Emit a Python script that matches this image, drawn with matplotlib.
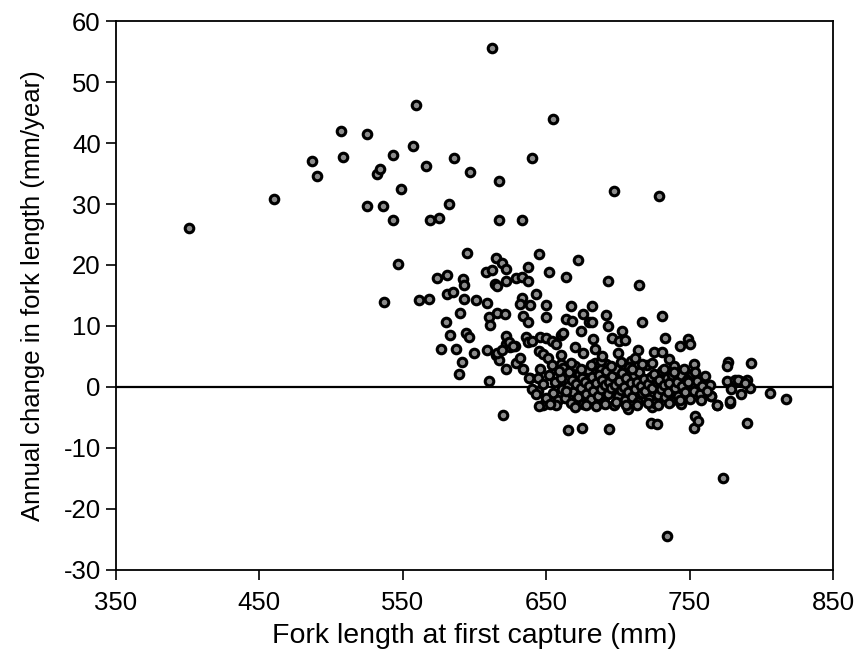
import matplotlib.pyplot as plt

plt.rcParams["font.family"] = "Liberation Sans"
plt.rcParams["axes.unicode_minus"] = False

# Fork length at first capture (mm) and annual change (mm/year)
# scattered fish above the main cloud
upper_x = [401, 460, 487, 490, 507, 508, 525, 525, 532, 534, 536, 543, 543, 537, 547,
           549, 557, 559, 566, 569, 575, 582, 586, 597, 595, 574, 581, 592, 593, 561,
           568, 581, 585, 593, 601, 590, 580, 612, 655, 640, 617, 697, 729, 617, 633,
           615, 619, 622, 645, 672, 637, 608, 612, 614, 616, 622, 629, 633, 637, 652,
           664, 693, 715, 609, 633, 632, 639, 643, 650, 667, 682, 610, 611, 616, 621,
           634, 637, 650, 664, 668, 676, 680, 682, 692, 693, 717, 731, 703]
upper_y = [26.0, 30.8, 37.0, 34.6, 41.9, 37.7, 41.5, 29.6, 34.9, 35.7, 29.6, 38.0, 27.3, 14.0, 20.2,
           32.5, 39.5, 46.2, 36.3, 27.3, 27.7, 30.0, 37.6, 35.2, 21.9, 17.9, 18.4, 17.7, 16.8, 14.2,
           14.5, 15.3, 15.6, 14.5, 14.3, 12.2, 10.7, 55.5, 43.9, 37.6, 33.8, 32.2, 31.3, 27.3, 27.4,
           21.2, 20.3, 19.3, 21.8, 20.8, 19.6, 18.9, 19.1, 16.9, 16.6, 17.3, 17.9, 18.0, 17.3, 18.9,
           18.1, 17.3, 16.8, 13.7, 14.6, 13.6, 13.4, 15.3, 13.4, 13.2, 13.2, 11.5, 10.2, 12.2, 11.9,
           11.6, 10.7, 11.5, 11.1, 10.9, 12.0, 10.7, 10.7, 11.8, 10.0, 10.7, 11.6, 9.2]

# fish around the edges of the cloud, plus the low outliers
edge_x = [577, 587, 583, 594, 596, 600, 591, 589, 609, 610, 615, 617, 622, 622, 625,
          628, 622, 620, 629, 632, 636, 637, 640, 645, 648, 646, 650, 654, 657, 660,
          662, 670, 674, 683, 696, 701, 733, 749, 750, 743, 714, 725, 731, 736, 777,
          776, 793, 806, 817, 790, 754, 753, 723, 727, 694, 675, 665, 648, 707, 724,
          744, 769, 778, 786, 765, 776, 782, 785, 790, 792, 761, 764, 753, 752, 739,
          773, 734, 616, 619, 624, 627, 634, 639, 644, 651, 660, 684, 705, 709, 692,
          688, 681, 674, 756, 784, 789, 779, 778, 769, 765]
edge_y = [6.2, 6.2, 8.6, 8.9, 8.2, 5.5, 4.1, 2.1, 6.1, 1.0, 5.3, 4.5, 8.4, 7.0, 6.6,
          6.7, 2.9, -4.6, 4.0, 4.8, 8.2, 7.4, 7.5, 5.9, 5.4, 8.2, 8.0, 7.6, 7.0, 8.6,
          8.9, 6.6, 9.2, 7.8, 8.1, 7.5, 8.0, 7.8, 7.0, 6.7, 6.0, 5.8, 5.8, 4.6, 4.1,
          3.4, 4.0, -1.0, -1.9, -5.9, -4.8, -6.7, -5.9, -6.1, -6.9, -6.7, -7.1, -3.0, -3.6, -3.3,
          -2.8, -2.9, -2.6, -1.2, -1.5, 1.0, 1.1, 1.0, 1.1, -0.1, 1.8, 0.4, 3.7, 2.1, 3.4,
          -15.0, -24.4, 5.6, 6.1, 7.3, 6.7, 2.9, 1.5, 1.5, 4.8, 3.7, 6.2, 7.7, 4.3, 3.7,
          2.9, 2.6, 2.1, -5.6, 1.2, 0.7, -0.4, -2.3, -3.0, -1.5]

# the dense cloud around zero change
cloud_x = [652, 655, 656, 658, 660, 661, 662, 663, 665, 666, 667, 668, 669, 670, 671,
           672, 673, 674, 675, 676, 677, 678, 679, 680, 681, 682, 683, 684, 685, 686,
           687, 688, 689, 690, 691, 692, 693, 694, 695, 696, 697, 698, 699, 700, 701,
           702, 703, 704, 705, 706, 707, 708, 709, 710, 711, 712, 713, 714, 715, 716,
           717, 718, 719, 720, 721, 722, 723, 724, 725, 726, 727, 728, 729, 730, 731,
           732, 733, 734, 735, 736, 737, 738, 740, 741, 742, 744, 745, 747, 748, 750,
           751, 753, 755, 757, 759, 762, 648, 650, 654, 657, 659, 664, 667, 670, 674,
           678, 681, 685, 688, 691, 695, 699, 702, 706, 710, 713, 717, 721, 724, 728,
           732, 736, 739, 743, 746, 749, 754, 758, 646, 644, 653, 689, 660, 676, 700,
           712, 638, 640, 643, 645]
cloud_y = [2.0, -1.0, 0.8, -2.2, 1.5, -0.3, 3.1, -1.8, 0.2, 2.4, -2.6, 1.1, -0.9, 3.5, 0.5,
           -1.6, 2.2, -0.2, 1.4, -2.8, 0.9, -1.2, 2.8, 0.1, -2.0, 1.7, -0.6, 3.9, 0.6, -1.5,
           2.0, -0.4, 1.2, -2.4, 0.3, 2.6, -1.1, 0.9, -0.2, 1.8, -2.9, 0.4, 2.9, -1.4, 1.0,
           -0.5, 2.3, 0.0, -2.1, 1.5, -0.8, 3.2, 0.7, -1.7, 1.9, -0.3, 0.9, -2.5, 2.5, 0.2,
           -1.0, 1.3, -0.6, 3.6, 0.5, -1.9, 1.6, -0.1, 2.1, -2.7, 0.8, -1.3, 1.1, -0.4, 2.7,
           0.3, -1.6, 1.4, -0.8, 0.6, -2.3, 1.9, -0.2, 0.9, -1.4, 2.0, 0.1, -0.9, 1.2, -1.9,
           0.4, -0.6, 1.0, -1.2, 0.2, -0.7, 0.5, -1.8, 3.6, -3.0, 2.6, -0.7, 4.0, -3.2, 3.0,
           -3.0, 3.6, -3.1, 4.2, -2.8, 3.4, -2.5, 4.1, -3.0, 2.9, -2.9, 3.8, -2.6, 4.0, -2.9,
           3.0, -2.6, 2.4, -2.1, 3.0, 0.8, 2.4, -2.2, 2.9, -0.6, -2.8, 5.0, 5.2, 5.6, 5.6,
           4.8, 1.5, -0.4, -1.2, -3.1]

x_ticks = [350, 450, 550, 650, 750, 850]
y_ticks = [-30, -20, -10, 0, 10, 20, 30, 40, 50, 60]

fig = plt.figure(figsize=(8.63, 6.69), dpi=100)
ax = fig.add_axes([0.1344, 0.148, 0.8308, 0.8206])

ax.axhline(0, color="black", linewidth=1.6, zorder=1)

xs = upper_x + edge_x + cloud_x
ys = upper_y + edge_y + cloud_y
ax.scatter(xs, ys, s=38, facecolor="#8c8c8c", edgecolor="black", linewidth=2.2, zorder=2)

ax.set_xlim(350, 850)
ax.set_ylim(-30, 60)
ax.set_xticks(x_ticks)
ax.set_yticks(y_ticks)
ax.tick_params(direction="out", length=7, width=1.2, labelsize=18.5, top=False, right=False)
ax.tick_params(axis="x", pad=8)
ax.tick_params(axis="y", pad=4)
for sp in ax.spines.values():
    sp.set_linewidth(1.3)

ax.set_xlabel("Fork length at first capture (mm)", fontsize=20.5, labelpad=6)
ax.set_ylabel("Annual change in fork length (mm/year)", fontsize=18.5, labelpad=13)

fig.savefig("out.png", dpi=100)
